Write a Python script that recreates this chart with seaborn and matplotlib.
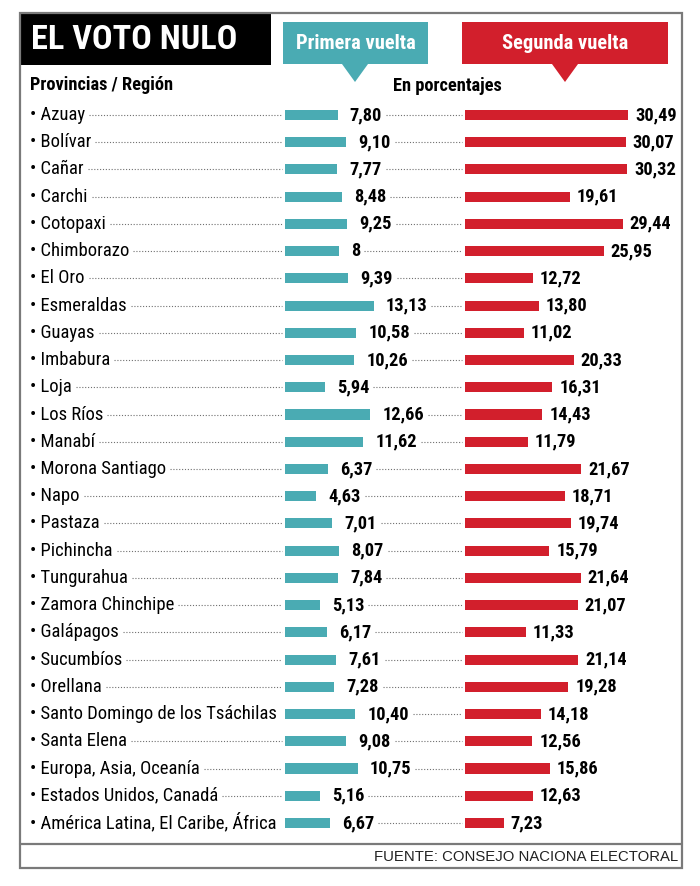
import os
import numpy as np
import pandas as pd
import matplotlib
matplotlib.use("Agg")
import matplotlib.pyplot as plt
import seaborn as sns
from matplotlib import font_manager as fm
from matplotlib import transforms as mtrans
from matplotlib.patches import Rectangle, Polygon

# ---------------- data ----------------
provinces = ["Azuay", "Bolívar", "Cañar", "Carchi", "Cotopaxi", "Chimborazo",
             "El Oro", "Esmeraldas", "Guayas", "Imbabura", "Loja", "Los Ríos",
             "Manabí", "Morona Santiago", "Napo", "Pastaza", "Pichincha",
             "Tungurahua", "Zamora Chinchipe", "Galápagos", "Sucumbíos",
             "Orellana", "Santo Domingo de los Tsáchilas", "Santa Elena",
             "Europa, Asia, Oceanía", "Estados Unidos, Canadá",
             "América Latina, El Caribe, África"]
primera = [7.80, 9.10, 7.77, 8.48, 9.25, 8, 9.39, 13.13, 10.58, 10.26, 5.94,
           12.66, 11.62, 6.37, 4.63, 7.01, 8.07, 7.84, 5.13, 6.17, 7.61, 7.28,
           10.40, 9.08, 10.75, 5.16, 6.67]
segunda = [30.49, 30.07, 30.32, 19.61, 29.44, 25.95, 12.72, 13.80, 11.02,
           20.33, 16.31, 14.43, 11.79, 21.67, 18.71, 19.74, 15.79, 21.64,
           21.07, 11.33, 21.14, 19.28, 14.18, 12.56, 15.86, 12.63, 7.23]
series_titles = ["Primera vuelta", "Segunda vuelta"]
title_text = "EL VOTO NULO"
col_header = "Provincias / Región"
unit_header = "En porcentajes"
source_text = "FUENTE: CONSEJO NACIONA ELECTORAL"

TEAL = "#4AABB3"
RED = "#D21F2C"
FRAME = "#7a7a7a"
DOT = "#707070"

sns.set_theme(style="white")
plt.rcParams["font.family"] = ["DejaVu Sans"]


def fmt(v):
    return str(int(v)) if float(v).is_integer() else f"{v:.2f}".replace(".", ",")


# ---------------- fonts ----------------
WMAP = {"ultralight": 200, "light": 300, "normal": 400, "regular": 400,
        "book": 400, "medium": 500, "roman": 400, "semibold": 600,
        "demibold": 600, "demi": 600, "bold": 700, "heavy": 800,
        "extra bold": 800, "black": 900}
FAM_PREF = ["roboto condensed", "noto sans", "open sans", "liberation sans narrow",
            "dejavu sans", "lato", "inter"]


def _w(f):
    w = f.weight
    if isinstance(w, (int, float)):
        return int(w)
    return WMAP.get(str(w).lower(), 400)


def pick_condensed(bold):
    target = 700 if bold else 400
    best, bs = None, None
    for f in fm.fontManager.ttflist:
        base = os.path.basename(f.fname).lower()
        nm = f.name.lower()
        if "italic" in base or "oblique" in base or f.style != "normal":
            continue
        st = str(f.stretch).lower()
        cond = ("condensed" in base or "narrow" in base or "condensed" in nm
                or "narrow" in nm or "condensed" in st)
        if not cond:
            continue
        if "semi" in base or "semi" in st:
            s_st = 1
        elif "extra" in base or "ultra" in base or "extra" in st or "ultra" in st:
            s_st = 2
        else:
            s_st = 0
        fam_rank = next((i for i, p in enumerate(FAM_PREF) if nm.startswith(p)),
                        len(FAM_PREF))
        score = (abs(_w(f) - target) // 100, s_st, fam_rank)
        if bs is None or score < bs:
            bs, best = score, f
    if best is None:
        return fm.FontProperties(family=["Roboto", "DejaVu Sans"],
                                 weight="bold" if bold else "normal")
    return fm.FontProperties(fname=best.fname)


def pick_regular_sans():
    for f in fm.fontManager.ttflist:
        base = os.path.basename(f.fname).lower()
        if "liberationsansnarrow-regular" in base:
            return fm.FontProperties(fname=f.fname)
    return fm.FontProperties(family=["Liberation Sans", "DejaVu Sans"])


FP_B = pick_condensed(True)
FP_R = pick_condensed(False)
FP_SRC = pick_regular_sans()

# ---------------- figure ----------------
W, H = 700, 886
fig = plt.figure(figsize=(W / 100, H / 100), dpi=100)
fig.patch.set_facecolor("white")
ax0 = fig.add_axes([0, 0, 1, 1])
ax0.set_xlim(0, W)
ax0.set_ylim(H, 0)
ax0.axis("off")
renderer = fig.canvas.get_renderer()


def fp_size(fp, size):
    p = fp.copy()
    p.set_size(size)
    return p


def fit(s, fp, target_px):
    t = ax0.text(0, 0, s, fontproperties=fp_size(fp, 10))
    w = t.get_window_extent(renderer).width
    t.remove()
    return 10 * target_px / w


# bar axes geometry
n = len(provinces)
row0, step = 115.0, 27.23
top = row0 - step / 2
height = step * n
T_X0, T_W, T_SCALE = 285, 110, 6.75
R_X0, R_W, R_SCALE = 465, 210, 5.35

df = pd.DataFrame({"Provincia": provinces, "Primera": primera, "Segunda": segunda})

ax_t = fig.add_axes([T_X0 / W, 1 - (top + height) / H, T_W / W, height / H])
ax_r = fig.add_axes([R_X0 / W, 1 - (top + height) / H, R_W / W, height / H])
sns.barplot(data=df, x="Primera", y="Provincia", orient="h", color=TEAL,
            saturation=1, width=0.37, linewidth=0, ax=ax_t)
sns.barplot(data=df, x="Segunda", y="Provincia", orient="h", color=RED,
            saturation=1, width=0.37, linewidth=0, ax=ax_r)
for a, sc, w in ((ax_t, T_SCALE, T_W), (ax_r, R_SCALE, R_W)):
    a.set_xlim(0, w / sc)
    a.set_ylim(n - 0.5, -0.5)
    a.axis("off")
    a.patch.set_alpha(0)

# ---------------- sizes ----------------
s_row = fit("• Santo Domingo de los Tsáchilas", FP_R, 246)
s_val = fit("30,49", FP_B, 42)
s_title = fit(title_text, FP_B, 206)
s_call = fit(series_titles[1], FP_B, 126)
s_head = fit(col_header, FP_B, 144)
s_src = fit(source_text, FP_SRC, 304)

# ---------------- frame, title, callouts ----------------
ax0.add_patch(Rectangle((20, 13), 662, 855, fill=False, edgecolor=FRAME, lw=1.6, zorder=5))
ax0.plot([20, 682], [844, 844], color=FRAME, lw=1.6, zorder=5)
ax0.add_patch(Rectangle((20, 13), 251, 52, facecolor="black", edgecolor="none", zorder=2))
ax0.text(31, 40, title_text, color="white", va="center", ha="left",
         fontproperties=fp_size(FP_B, s_title), zorder=3)

ax0.add_patch(Polygon([(283, 22), (428, 22), (428, 64), (368, 64), (355, 82),
                       (342, 64), (283, 64)], closed=True, facecolor=TEAL,
                      edgecolor="none", zorder=2))
ax0.add_patch(Polygon([(462, 22), (668, 22), (668, 64), (578, 64), (565, 82),
                       (552, 64), (462, 64)], closed=True, facecolor=RED,
                      edgecolor="none", zorder=2))
ax0.text(355.5, 43, series_titles[0], color="white", ha="center", va="center",
         fontproperties=fp_size(FP_B, s_call), zorder=3)
ax0.text(565, 43, series_titles[1], color="white", ha="center", va="center",
         fontproperties=fp_size(FP_B, s_call), zorder=3)

ax0.text(30, 85, col_header, color="black", ha="left", va="center",
         fontproperties=fp_size(FP_B, s_head))
ax0.text(393, 86, unit_header, color="black", ha="left", va="center",
         fontproperties=fp_size(FP_B, s_head))
ax0.text(678, 857, source_text, color="#222222", ha="right", va="center",
         fontproperties=fp_size(FP_SRC, s_src))

# ---------------- row labels, values, leaders ----------------
blend = mtrans.blended_transform_factory(ax0.transData, ax_t.transData)
row_texts, val_texts = [], []
for i, name in enumerate(provinces):
    t = ax0.text(30, i, "• " + name, transform=blend, ha="left", va="center",
                 color="black", fontproperties=fp_size(FP_R, s_row))
    row_texts.append(t)
for i, v in enumerate(primera):
    t = ax_t.annotate(fmt(v), xy=(v, i), xytext=(12, 0), textcoords="offset pixels",
                      ha="left", va="center", color="black",
                      fontproperties=fp_size(FP_B, s_val), annotation_clip=False)
    val_texts.append(t)
for i, v in enumerate(segunda):
    ax_r.annotate(fmt(v), xy=(v, i), xytext=(7, 0), textcoords="offset pixels",
                  ha="left", va="center", color="black",
                  fontproperties=fp_size(FP_B, s_val), annotation_clip=False)

fig.canvas.draw()
renderer = fig.canvas.get_renderer()
inv = ax0.transData.inverted()
for i in range(n):
    x_end = inv.transform(row_texts[i].get_window_extent(renderer).get_points())[1, 0]
    if T_X0 - 3 - (x_end + 4) > 2:
        ax0.plot([x_end + 4, T_X0 - 3], [i, i], transform=blend, color=DOT,
                 lw=0.8, linestyle=(0, (1, 1.6)))
    vx_end = inv.transform(val_texts[i].get_window_extent(renderer).get_points())[1, 0]
    if R_X0 - 3 - (vx_end + 4) > 2:
        ax0.plot([vx_end + 4, R_X0 - 3], [i, i], transform=blend, color=DOT,
                 lw=0.8, linestyle=(0, (1, 1.6)))

fig.savefig("out.png", dpi=100, facecolor="white")
